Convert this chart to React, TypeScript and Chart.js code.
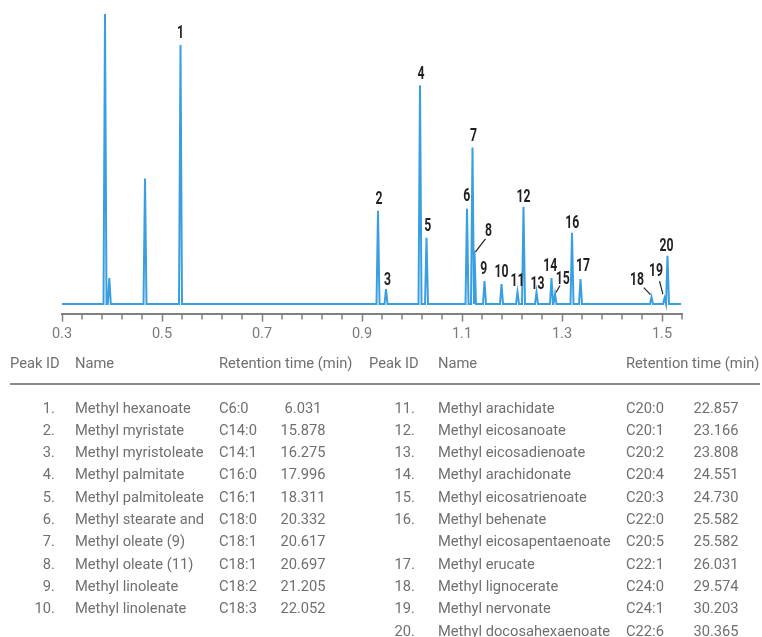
import React, { useEffect, useRef } from "react";
import { Chart, registerables } from "chart.js";

Chart.register(...registerables);

// Retention axis (scaled) and its ticks
const axisMin = 0.3;
const axisMax = 1.54;
const majorTickValues = [0.3, 0.5, 0.7, 0.9, 1.1, 1.3, 1.5];
const majorTickLabels = ["0.3", "0.5", "0.7", "0.9", "1.1", "1.3", "1.5"];
const minorTickStep = 0.04;

// Chromatogram peaks: apex position, apex height and printed peak number
const peakTimes = [
  0.386, 0.3946, 0.466, 0.537, 0.932, 0.948, 1.016, 1.029, 1.11, 1.121, 1.125,
  1.145, 1.179, 1.211, 1.223, 1.249, 1.279, 1.286, 1.32, 1.337, 1.479, 1.505, 1.511,
];
const peakHeights = [
  289, 26, 125, 258, 93, 15, 218, 66, 95, 156, 53, 23, 20, 12, 97, 12, 26, 10, 71,
  25, 7, 6, 48,
];
const peakLabels = [
  "", "", "", "1", "2", "3", "4", "5", "6", "7", "8", "9", "10", "11", "12", "13",
  "14", "15", "16", "17", "18", "19", "20",
];

// Peak table
const peakIds = [
  "1.", "2.", "3.", "4.", "5.", "6.", "7.", "8.", "9.", "10.",
  "11.", "12.", "13.", "14.", "15.", "16.", "", "17.", "18.", "19.", "20.",
];
const compoundNames = [
  "Methyl hexanoate", "Methyl myristate", "Methyl myristoleate", "Methyl palmitate",
  "Methyl palmitoleate", "Methyl stearate and", "Methyl oleate (9)", "Methyl oleate (11)",
  "Methyl linoleate", "Methyl linolenate", "Methyl arachidate", "Methyl eicosanoate",
  "Methyl eicosadienoate", "Methyl arachidonate", "Methyl eicosatrienoate",
  "Methyl behenate", "Methyl eicosapentaenoate", "Methyl erucate", "Methyl lignocerate",
  "Methyl nervonate", "Methyl docosahexaenoate",
];
const formulas = [
  "C6:0", "C14:0", "C14:1", "C16:0", "C16:1", "C18:0", "C18:1", "C18:1", "C18:2", "C18:3",
  "C20:0", "C20:1", "C20:2", "C20:4", "C20:3", "C22:0", "C20:5", "C22:1", "C24:0", "C24:1",
  "C22:6",
];
const retentionTimes = [
  "6.031", "15.878", "16.275", "17.996", "18.311", "20.332", "20.617", "20.697", "21.205",
  "22.052", "22.857", "23.166", "23.808", "24.551", "24.730", "25.582", "25.582", "26.031",
  "29.574", "30.203", "30.365",
];
const leftColumnRows = 10;

// Label placement relative to the apex, in pixels: [dx, dy, optional leader line]
const labelPlacement: Record<string, [number, number, number[]?]> = {
  "1": [0, -13],
  "2": [1, -12],
  "3": [1.5, -10],
  "4": [1, -12],
  "5": [1.3, -12],
  "6": [-0.3, -13],
  "7": [1, -12],
  "8": [14, -20, [11, -12, 1, 1]],
  "9": [-0.7, -12],
  "10": [0, -12],
  "11": [0, -12],
  "12": [0, -10],
  "13": [1, -9],
  "14": [-1.3, -12],
  "15": [7.7, -16, [5, -8.5, 1, -1.5]],
  "16": [0.3, -10],
  "17": [2.6, -13.7],
  "18": [-14.4, -17.4, [-7.7, -9.5, -1, -2.4]],
  "19": [-8.6, -27.4, [-5, -17, -1.6, -4]],
  "20": [-1, -10.3],
};

const peakHalfWidth = 0.003;

function buildTrace() {
  const pts: { x: number; y: number }[] = [{ x: axisMin, y: 0 }];
  peakTimes.forEach((t, i) => {
    pts.push({ x: t - peakHalfWidth, y: 0 });
    pts.push({ x: t, y: peakHeights[i] });
    pts.push({ x: t + peakHalfWidth, y: 0 });
  });
  pts.push({ x: axisMax - 0.002, y: 0 });
  return pts;
}

const axisGray = "#808080";

const annotationPlugin = {
  id: "peakAnnotations",
  afterDraw(chart: any) {
    const { ctx, chartArea } = chart;
    const xs = chart.scales.x;
    const ys = chart.scales.y;
    ctx.save();

    // minor ticks below the axis line
    const axisY = chartArea.bottom;
    ctx.strokeStyle = axisGray;
    ctx.lineWidth = 1.5;
    const n = Math.round((axisMax - axisMin) / minorTickStep);
    for (let k = 0; k <= n; k++) {
      const v = axisMin + k * minorTickStep;
      if (k % 5 === 0 && v <= 1.5 + 1e-9) continue;
      const px = Math.round(xs.getPixelForValue(v));
      ctx.beginPath();
      ctx.moveTo(px, axisY);
      ctx.lineTo(px, axisY + 6);
      ctx.stroke();
    }

    // peak numbers
    ctx.fillStyle = "#231f20";
    ctx.strokeStyle = "#231f20";
    ctx.lineWidth = 1.2;
    ctx.font = "bold 18px Roboto";
    ctx.textAlign = "center";
    ctx.textBaseline = "middle";
    peakLabels.forEach((label, i) => {
      if (!label) return;
      const place = labelPlacement[label];
      const px = xs.getPixelForValue(peakTimes[i]);
      const py = ys.getPixelForValue(peakHeights[i]);
      ctx.save();
      ctx.translate(px + place[0], py + place[1]);
      ctx.scale(0.68, 1);
      ctx.fillText(label, 0, 1);
      ctx.restore();
      const leader = place[2];
      if (leader) {
        ctx.beginPath();
        ctx.moveTo(px + leader[0], py + leader[1]);
        ctx.lineTo(px + leader[2], py + leader[3]);
        ctx.stroke();
      }
    });
    ctx.restore();
  },
};

function Chromatogram() {
  const canvasRef = useRef<HTMLCanvasElement | null>(null);

  useEffect(() => {
    const canvas = canvasRef.current;
    if (!canvas) return;
    const chart = new Chart(canvas, {
      type: "line",
      data: {
        datasets: [
          {
            data: buildTrace(),
            borderColor: "#3a9fe0",
            borderWidth: 2,
            pointRadius: 0,
            tension: 0,
            fill: false,
          },
        ],
      },
      options: {
        responsive: false,
        animation: false,
        layout: { padding: { left: 62, right: 80, top: 10, bottom: 3 } },
        plugins: { legend: { display: false }, tooltip: { enabled: false } },
        scales: {
          x: {
            type: "linear",
            min: axisMin,
            max: axisMax,
            afterBuildTicks: (scale: any) => {
              scale.ticks = majorTickValues.map((v) => ({ value: v }));
            },
            ticks: {
              autoSkip: false,
              maxRotation: 0,
              padding: 4,
              color: "#7a7a7a",
              font: { family: "Roboto", size: 14.5 },
              callback: (_v: any, i: number) => majorTickLabels[i],
            },
            grid: {
              drawOnChartArea: false,
              drawTicks: true,
              tickLength: 8,
              tickWidth: 1.5,
              tickColor: axisGray,
              color: axisGray,
            },
            border: { display: true, color: axisGray, width: 2 },
          },
          y: { display: false, min: -9.5, max: 293 },
        },
      },
      plugins: [annotationPlugin],
    } as any);
    return () => chart.destroy();
  }, []);

  return (
    <canvas
      ref={canvasRef}
      width={762}
      height={350}
      style={{ position: "absolute", left: 0, top: 0 }}
    />
  );
}

const textColor = "#6f6f6f";
const rowTop = 407.5;
const rowStep = 22.3;
const lineH = 18;

function Cell(props: { x: number; y: number; align: "left" | "right" | "center"; text: string }) {
  const { x, y, align, text } = props;
  const style: React.CSSProperties = {
    position: "absolute",
    top: y - lineH / 2,
    lineHeight: lineH + "px",
    whiteSpace: "nowrap",
  };
  if (align === "left") style.left = x;
  else if (align === "right") style.right = 762 - x;
  else {
    style.left = x - 60;
    style.width = 120;
    style.textAlign = "center";
  }
  return <div style={style}>{text}</div>;
}

function PeakTable() {
  const cols = [
    { id: 55, name: 75, formula: 219, time: 303, headId: 10 },
    { id: 415, name: 438, formula: 626, time: 716, headId: 369 },
  ];
  const cells: React.ReactNode[] = [];
  cols.forEach((c, ci) => {
    cells.push(<Cell key={"hi" + ci} x={c.headId} y={363} align="left" text="Peak ID" />);
    cells.push(<Cell key={"hn" + ci} x={c.name} y={363} align="left" text="Name" />);
    cells.push(
      <Cell key={"hr" + ci} x={c.formula} y={363} align="left" text="Retention time (min)" />
    );
  });
  compoundNames.forEach((name, i) => {
    const c = i < leftColumnRows ? cols[0] : cols[1];
    const r = i < leftColumnRows ? i : i - leftColumnRows;
    const y = rowTop + r * rowStep;
    cells.push(<Cell key={"i" + i} x={c.id} y={y} align="right" text={peakIds[i]} />);
    cells.push(<Cell key={"n" + i} x={c.name} y={y} align="left" text={name} />);
    cells.push(<Cell key={"f" + i} x={c.formula} y={y} align="left" text={formulas[i]} />);
    cells.push(<Cell key={"t" + i} x={c.time} y={y} align="center" text={retentionTimes[i]} />);
  });
  return (
    <div
      style={{
        position: "absolute",
        left: 0,
        top: 0,
        width: 762,
        height: 637,
        fontFamily: "Roboto, sans-serif",
        fontSize: 14.7,
        color: textColor,
      }}
    >
      {cells}
      <div
        style={{
          position: "absolute",
          left: 10,
          width: 750,
          top: 382.5,
          height: 2,
          background: "#8c8c8c",
        }}
      />
    </div>
  );
}

export default function App() {
  return (
    <div
      style={{
        position: "fixed",
        left: 0,
        top: 0,
        width: 762,
        height: 637,
        overflow: "hidden",
        background: "#fff",
      }}
    >
      <Chromatogram />
      <PeakTable />
    </div>
  );
}
